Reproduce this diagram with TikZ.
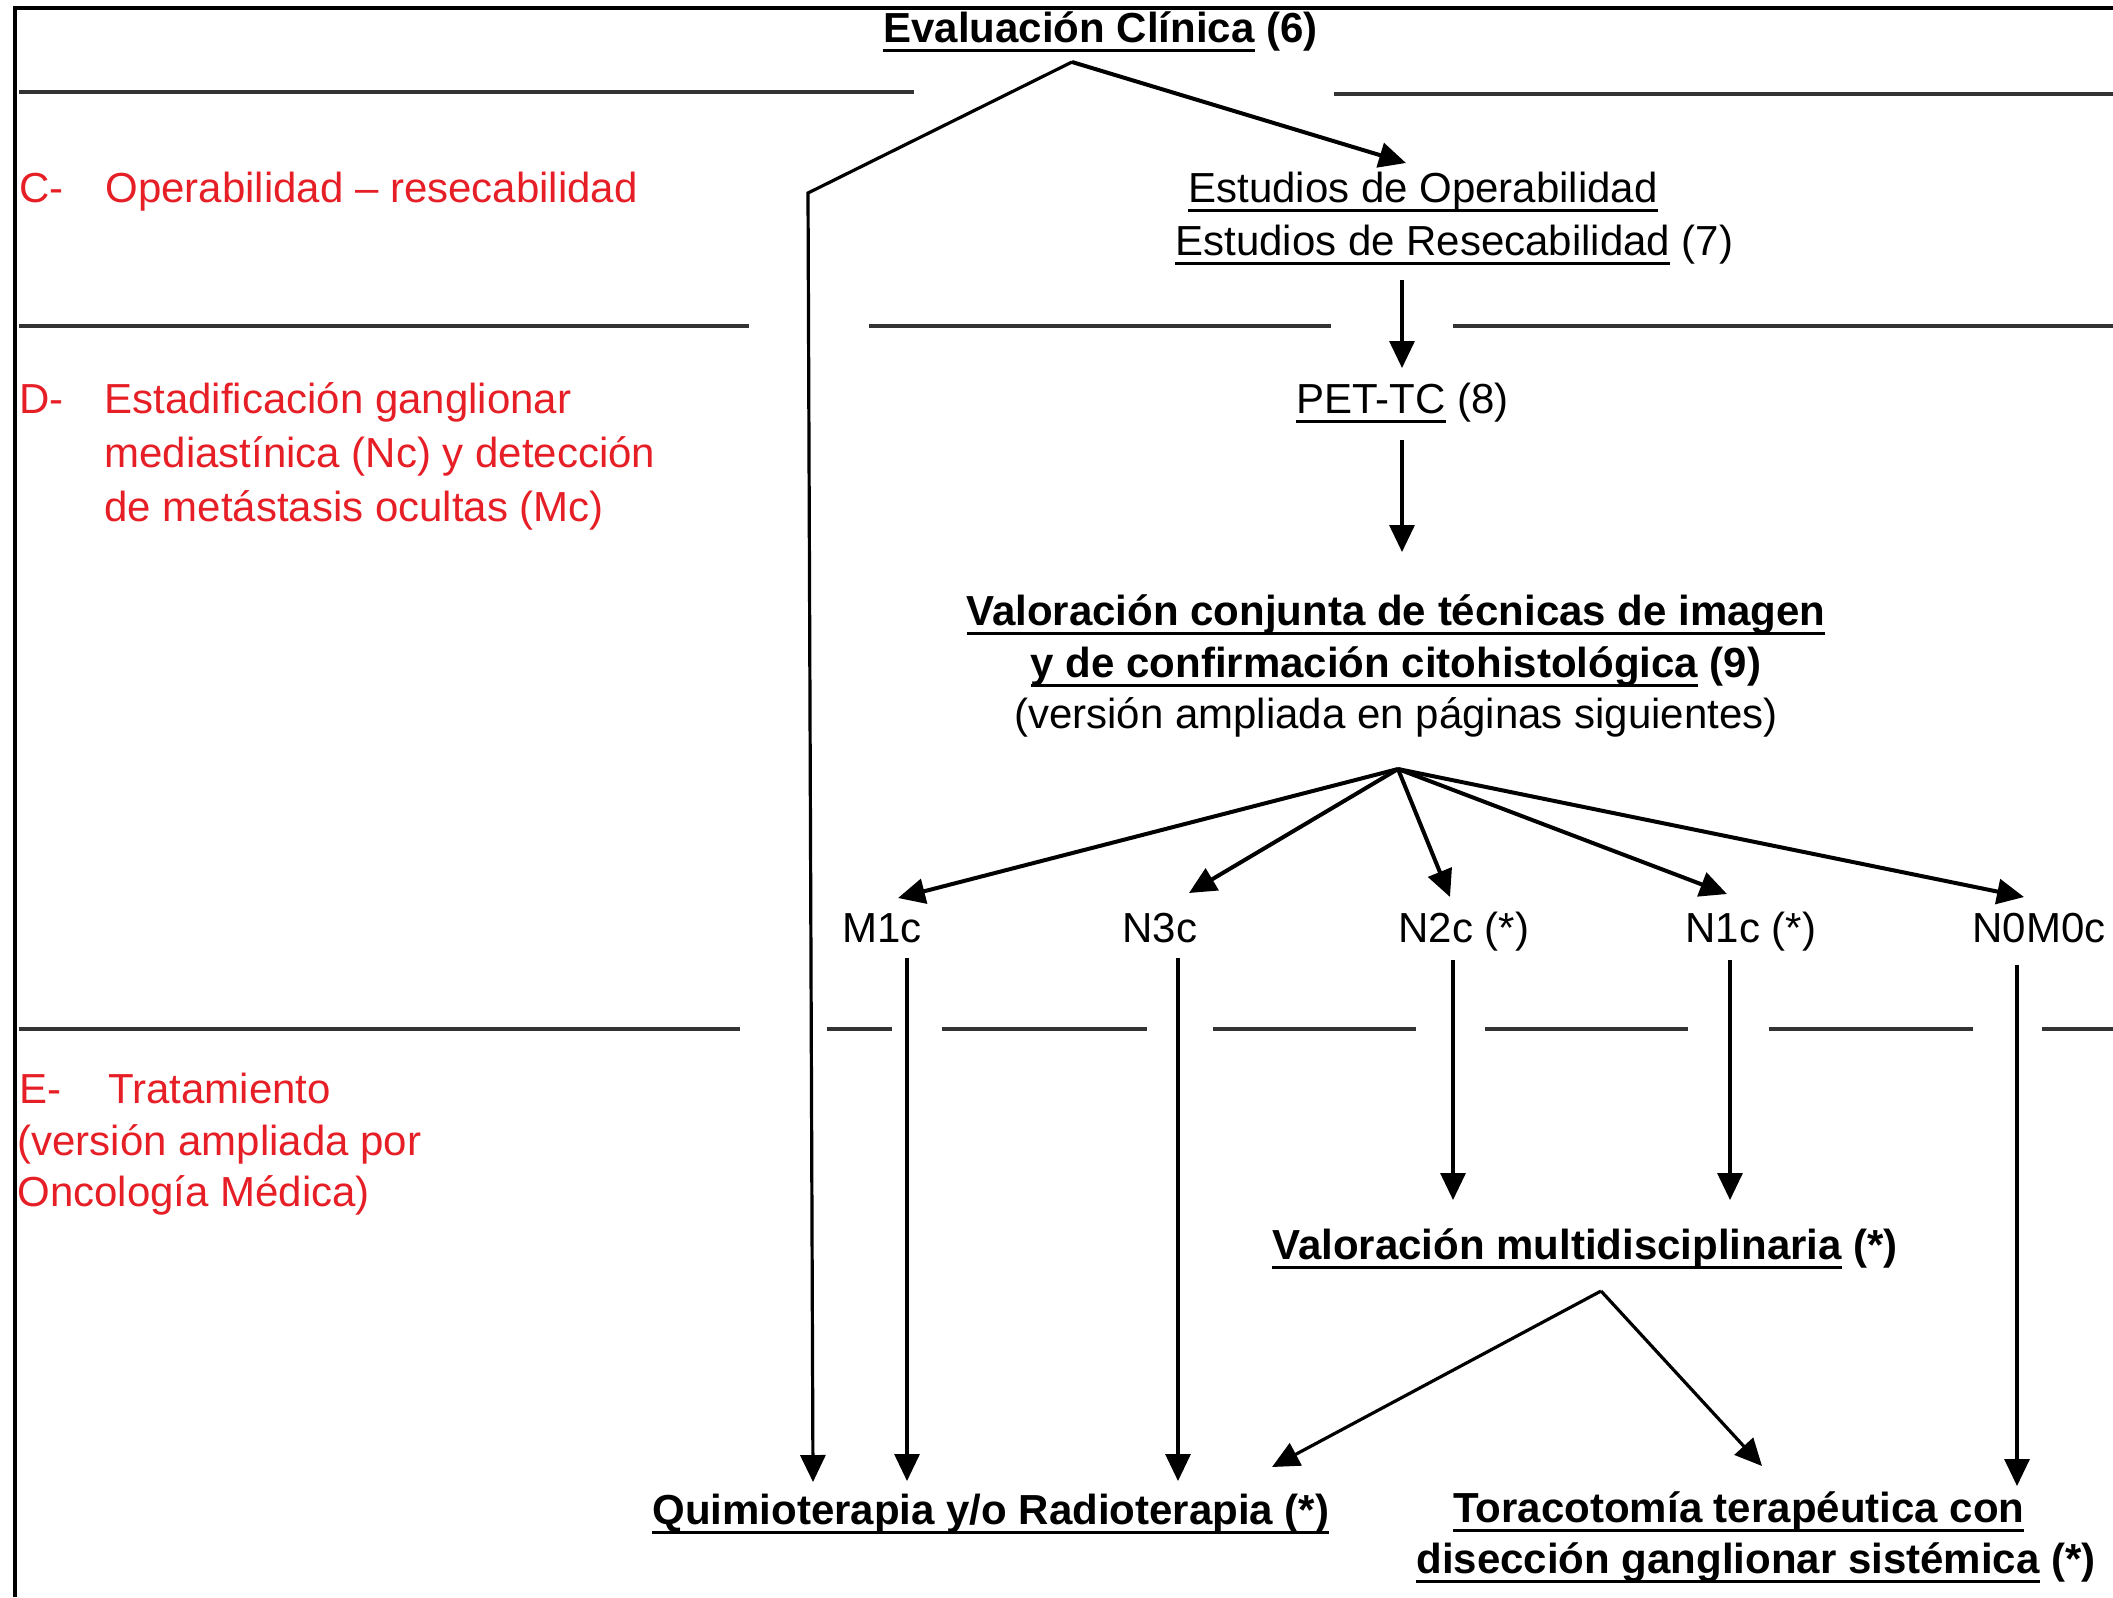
\documentclass[tikz,border=0pt]{standalone}
\usepackage{fontspec}
\setmainfont{Liberation Sans}
\usetikzlibrary{arrows.meta}
\definecolor{lblred}{RGB}{230,30,38}
\newcommand\myul[1]{\setbox0=\hbox{#1}\rlap{\rule[-4.8pt]{\wd0}{1.5pt}}\box0\relax}
\begin{document}
\begin{tikzpicture}[x=0.5pt,y=-0.5pt,
  txt/.style={inner sep=0pt, anchor=base west, font=\fontsize{21pt}{27pt}\selectfont},
  ctxt/.style={txt, anchor=base},
  redtxt/.style={txt, text=lblred},
  arr/.style={line width=1.6pt, -{Triangle[length=13.5pt,width=12.5pt]}},
  thickarr/.style={arr, line width=2pt},
  divline/.style={line width=1.7pt, draw=black!80},
  frameline/.style={line width=1.6pt}]
\useasboundingbox (0,0) rectangle (2113,1597);
% frame
\draw[frameline] (15,1597) -- (15,8) -- (2113,8);
% dividers
\draw[divline] (19,92) -- (914,92);
\draw[divline] (1334,94) -- (2113,94);
\draw[divline] (19,326) -- (749,326);
\draw[divline] (869,326) -- (1331,326);
\draw[divline] (1453,326) -- (2113,326);
\draw[divline] (19,1029) -- (740,1029);
\draw[divline] (827,1029) -- (892,1029);
\draw[divline] (942,1029) -- (1147,1029);
\draw[divline] (1213,1029) -- (1416,1029);
\draw[divline] (1485,1029) -- (1688,1029);
\draw[divline] (1769,1029) -- (1973,1029);
\draw[divline] (2042,1029) -- (2113,1029);
% red section labels
\node[redtxt] (cl) at (19,202) {C-};
\node[redtxt] (ct) at (105,202) {Operabilidad – resecabilidad};
\node[redtxt] (dl) at (19,413) {D-};
\node[redtxt] (d1) at (104,413) {Estadificación ganglionar};
\node[redtxt] (d2) at (104,467) {mediastínica (Nc) y detección};
\node[redtxt] (d3) at (104,521) {de metástasis ocultas (Mc)};
\node[redtxt] (el) at (19,1103) {E-};
\node[redtxt] (e1) at (108,1103) {Tratamiento};
\node[redtxt] (e2) at (17,1155) {(versión ampliada por};
\node[redtxt] (e3) at (17,1206) {Oncología Médica)};
% main texts
\node[txt] (ev) at (883,42) {\bfseries\myul{Evaluación Clínica} (6)};
\node[txt] (es1) at (1188,202) {\myul{Estudios de Operabilidad}};
\node[txt] (es2) at (1175,255) {\myul{Estudios de Resecabilidad} (7)};
\node[txt] (pet) at (1296,413) {\myul{PET-TC} (8)};
\node[ctxt] (va1) at (1396,625) {\bfseries\myul{Valoración conjunta de técnicas de imagen}};
\node[ctxt] (va2) at (1396,677) {\bfseries\myul{y de confirmación citohistológica} (9)};
\node[ctxt] (va3) at (1396,728) {(versión ampliada en páginas siguientes)};
\node[txt] (m1) at (842,942) {M1c};
\node[txt] (n3) at (1122,942) {N3c};
\node[txt] (n2) at (1398,942) {N2c (*)};
\node[txt] (n1) at (1685,942) {N1c (*)};
\node[txt] (n0) at (1972,942) {N0M0c};
\node[txt] (mu) at (1272,1259) {\bfseries\myul{Valoración multidisciplinaria} (*)};
\node[txt] (qr) at (652,1524) {\bfseries\myul{Quimioterapia y/o Radioterapia (*)}};
\node[txt] (to1) at (1453,1522) {\bfseries\myul{Toracotomía terapéutica con}};
\node[txt] (to2) at (1416,1573) {\bfseries\myul{disección ganglionar sistémica} (*)};
% connector coordinates
\coordinate (evA) at (1072,62);
\coordinate (evL) at (808,193);
\coordinate (qTipL) at (813,1482);
\coordinate (esTip) at (1406,163);
\coordinate (esB) at (1402,280);
\coordinate (petTip) at (1402,368);
\coordinate (petB) at (1402,440);
\coordinate (valTip) at (1402,552);
\coordinate (fanA) at (1398,769);
\coordinate (m1T) at (898,898);
\coordinate (n3T) at (1189,893);
\coordinate (n2T) at (1450,897);
\coordinate (n1T) at (1727,894);
\coordinate (n0T) at (2024,897);
\coordinate (m1B) at (907,958);
\coordinate (m1E) at (907,1481);
\coordinate (n3B) at (1178,958);
\coordinate (n3E) at (1178,1481);
\coordinate (n2B) at (1453,960);
\coordinate (n2E) at (1453,1200);
\coordinate (n1B) at (1730,960);
\coordinate (n1E) at (1730,1200);
\coordinate (n0B) at (2017,965);
\coordinate (n0E) at (2017,1486);
\coordinate (muA) at (1601,1291);
\coordinate (muL) at (1272,1467);
\coordinate (muR) at (1762,1466);
% connectors
\draw[arr] (evA) -- (evL) -- (qTipL);
\draw[thickarr] (evA) -- (esTip);
\draw[arr] (esB) -- (petTip);
\draw[arr] (petB) -- (valTip);
\draw[thickarr] (fanA) -- (m1T);
\draw[thickarr] (fanA) -- (n3T);
\draw[thickarr] (fanA) -- (n2T);
\draw[thickarr] (fanA) -- (n1T);
\draw[thickarr] (fanA) -- (n0T);
\draw[arr] (m1B) -- (m1E);
\draw[arr] (n3B) -- (n3E);
\draw[arr] (n2B) -- (n2E);
\draw[arr] (n1B) -- (n1E);
\draw[arr] (n0B) -- (n0E);
\draw[arr] (muA) -- (muL);
\draw[arr] (muA) -- (muR);
\end{tikzpicture}
\end{document}
